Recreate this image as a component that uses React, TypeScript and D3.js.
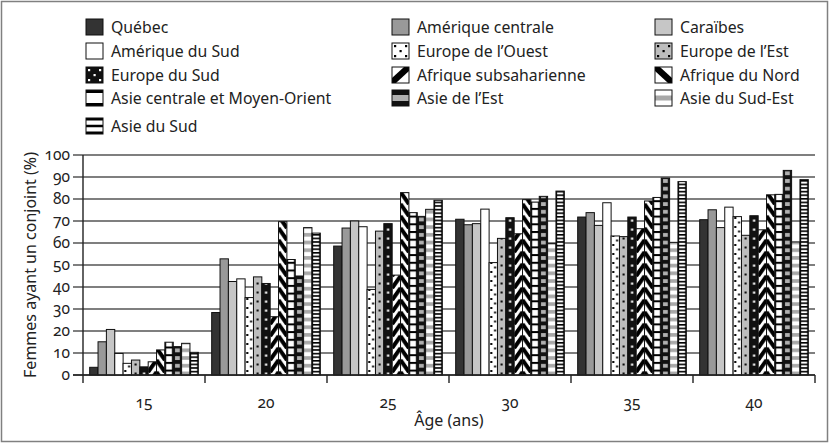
import * as d3 from 'd3';

const ages = ['15', '20', '25', '30', '35', '40'];
const yTicks = [0, 10, 20, 30, 40, 50, 60, 70, 80, 90, 100];

const seriesNames = [
  'Québec', 'Amérique centrale', 'Caraïbes', 'Amérique du Sud',
  'Europe de l’Ouest', 'Europe de l’Est', 'Europe du Sud',
  'Afrique subsaharienne', 'Afrique du Nord',
  'Asie centrale et Moyen-Orient', 'Asie de l’Est', 'Asie du Sud-Est', 'Asie du Sud',
];
const seriesKeys = [
  'quebec', 'amC', 'carib', 'amS', 'eurO', 'eurE', 'eurS',
  'afrSub', 'afrN', 'asieC', 'asieE', 'asieSE', 'asieS',
];

const quebec = [3.5, 28.4, 58.6, 70.8, 71.8, 70.6];
const ameriqueCentrale = [15.1, 52.8, 66.8, 68.3, 73.8, 75.1];
const caraibes = [20.7, 42.5, 70.0, 68.8, 68.0, 67.0];
const ameriqueSud = [9.8, 43.7, 67.4, 75.4, 78.3, 76.3];
const europeOuest = [5.3, 35.2, 38.9, 51.1, 63.2, 72.0];
const europeEst = [6.8, 44.6, 65.4, 62.1, 62.9, 63.5];
const europeSud = [3.7, 41.6, 68.8, 71.5, 71.8, 72.4];
const afriqueSub = [6.0, 26.5, 45.4, 64.2, 66.5, 66.0];
const afriqueNord = [11.4, 69.7, 82.9, 79.7, 79.1, 81.9];
const asieCentrale = [14.9, 52.5, 73.8, 78.6, 80.7, 82.1];
const asieEst = [12.9, 45.0, 72.1, 81.2, 89.5, 93.0];
const asieSudEst = [14.4, 67.0, 75.3, 59.7, 60.3, 60.5];
const asieSud = [10.3, 64.5, 79.4, 83.6, 87.9, 88.8];

const allSeries = [
  quebec, ameriqueCentrale, caraibes, ameriqueSud, europeOuest, europeEst, europeSud,
  afriqueSub, afriqueNord, asieCentrale, asieEst, asieSudEst, asieSud,
];

const W = 830;
const H = 444;
const left = 83, right = 815, top = 155, bottom = 375;
const FONT = '"Noto Sans", "Open Sans", sans-serif';

const x0 = d3.scaleBand<string>().domain(ages).range([left, right]).paddingInner(0).paddingOuter(0);
const x1 = d3.scaleBand<string>().domain(seriesKeys).range([0, x0.bandwidth()]).paddingInner(0).paddingOuter(0.8);
const y = d3.scaleLinear().domain([0, 100]).range([bottom, top]);

const bw = x1.bandwidth();

const plainFill: Record<string, string> = { quebec: '#333', amC: '#999', carib: '#c6c6c6', amS: '#fff' };

function Patterns() {
  const w = bw;
  const sh = 12;
  return (
    <defs>
      <pattern id="eurO" patternUnits="userSpaceOnUse" width={w} height={9}>
        <rect width={w} height={9} fill="#fff" />
        <rect x={1.2} y={1} width={2} height={2} fill="#000" />
        <rect x={w - 3.4} y={5.5} width={2} height={2} fill="#000" />
      </pattern>
      <pattern id="eurE" patternUnits="userSpaceOnUse" width={w} height={9}>
        <rect width={w} height={9} fill="#bdbdbd" />
        <rect x={w / 2 - 1} y={3.5} width={2} height={2} fill="#000" />
      </pattern>
      <pattern id="eurS" patternUnits="userSpaceOnUse" width={w} height={9}>
        <rect width={w} height={9} fill="#111" />
        <rect x={w / 2 - 1} y={3.5} width={2.2} height={2.2} fill="#fff" />
      </pattern>
      <pattern id="afrSub" patternUnits="userSpaceOnUse" width={w} height={sh}>
        <rect width={w} height={sh} fill="#fff" />
        {[-sh, 0, sh].map(o => (
          <line key={o} x1={0} y1={sh + o} x2={w} y2={o} stroke="#000" strokeWidth={4} />
        ))}
      </pattern>
      <pattern id="afrN" patternUnits="userSpaceOnUse" width={w} height={sh}>
        <rect width={w} height={sh} fill="#fff" />
        {[-sh, 0, sh].map(o => (
          <line key={o} x1={0} y1={o} x2={w} y2={sh + o} stroke="#000" strokeWidth={4} />
        ))}
      </pattern>
      <pattern id="asieC" patternUnits="userSpaceOnUse" width={w} height={7.7}>
        <rect width={w} height={7.7} fill="#fff" />
        <rect y={0} width={w} height={2} fill="#000" />
        <rect x={0} width={1.2} height={7.7} fill="#000" />
        <rect x={w - 1.2} width={1.2} height={7.7} fill="#000" />
      </pattern>
      <pattern id="asieE" patternUnits="userSpaceOnUse" width={w} height={7.7}>
        <rect width={w} height={7.7} fill="#111" />
        <rect x={1.8} y={2} width={w - 3.6} height={3.8} fill="#b0b0b0" />
      </pattern>
      <pattern id="asieSE" patternUnits="userSpaceOnUse" width={w} height={7.7}>
        <rect width={w} height={7.7} fill="#fff" />
        <rect y={2} width={w} height={3.6} fill="#a8a8a8" />
      </pattern>
      <pattern id="asieS" patternUnits="userSpaceOnUse" width={w} height={3.6}>
        <rect width={w} height={3.6} fill="#fff" />
        <rect y={0} width={w} height={1.6} fill="#000" />
        <rect x={0} width={1.1} height={3.6} fill="#000" />
        <rect x={w - 1.1} width={1.1} height={3.6} fill="#000" />
      </pattern>
    </defs>
  );
}

const fillFor = (k: string) => plainFill[k] ?? `url(#${k})`;

const SW = 17, SH = 16;

// legend swatch drawn as a small picture of the fill
function Swatch({ k }: { k: string }) {
  const dots = (c: string) => [[2, 2], [SW - 4, 2], [SW / 2 - 1, SH / 2 - 1], [2, SH - 4], [SW - 4, SH - 4]].map(([dx, dy], i) => (
    <rect key={i} x={dx} y={dy} width={2.2} height={2.2} fill={c} />
  ));
  let inner: any = null;
  let bg = '#fff';
  if (plainFill[k]) bg = plainFill[k];
  if (k === 'eurO') inner = dots('#000');
  if (k === 'eurE') { bg = '#bdbdbd'; inner = dots('#000'); }
  if (k === 'eurS') { bg = '#111'; inner = dots('#fff'); }
  if (k === 'afrSub') inner = <polygon points={`0,${SH} 0,${SH - 5} ${SW - 5},0 ${SW},0 ${SW},4 4,${SH}`} fill="#000" />;
  if (k === 'afrN') inner = <polygon points={`0,0 5,0 ${SW},${SH - 5} ${SW},${SH} ${SW - 4},${SH} 0,4`} fill="#000" />;
  if (k === 'asieC') inner = <><rect width={SW} height={3} fill="#000" /><rect y={SH - 3} width={SW} height={3} fill="#000" /></>;
  if (k === 'asieE') { bg = '#111'; inner = <rect x={0} y={5} width={SW} height={6} fill="#b0b0b0" />; }
  if (k === 'asieSE') inner = <rect x={0} y={5.5} width={SW} height={5} fill="#a8a8a8" />;
  if (k === 'asieS') inner = <><rect width={SW} height={2.5} fill="#000" /><rect y={SH / 2 - 1.25} width={SW} height={2.5} fill="#000" /><rect y={SH - 2.5} width={SW} height={2.5} fill="#000" /></>;
  return (
    <>
      <rect width={SW} height={SH} fill={bg} />
      {inner}
      <rect width={SW} height={SH} fill="none" stroke="#111" strokeWidth={1} />
    </>
  );
}

const legendCols = [86, 392, 655];
const legendRows = [27, 51, 75, 98, 126];

export default function App() {
  return (
    <svg width={W} height={H} style={{ position: 'absolute', left: 0, top: 0, background: '#fff' }}
      fontFamily={FONT}>
      <Patterns />
      <rect x={1.5} y={1.5} width={W - 4} height={H - 4} fill="#fff" stroke="#808080" strokeWidth={1.5} />

      {/* legend */}
      {seriesKeys.map((k, i) => {
        const col = i < 12 ? i % 3 : 0;
        const row = Math.floor(i / 3);
        const lx = legendCols[col];
        const ly = legendRows[row];
        return (
          <g key={k}>
            <g transform={`translate(${lx},${ly - 8})`}>
              <Swatch k={k} />
            </g>
            <text x={lx + 25} y={ly} dy="0.35em" fontSize={15.8} fill="#222">{seriesNames[i]}</text>
          </g>
        );
      })}

      {/* grid + y ticks */}
      {yTicks.map(t => (
        <g key={t}>
          <line x1={left - 10} x2={right} y1={y(t)} y2={y(t)} stroke="#555" strokeWidth={1.4} />
          <text x={left - 13} y={y(t)} dy="0.35em" textAnchor="end" fontSize={15.5} fill="#222"
            style={{ fontVariantNumeric: 'oldstyle-nums' }}>{t}</text>
        </g>
      ))}

      {/* bars */}
      {ages.map((a, gi) => (
        <g key={a}>
          {seriesKeys.map((k, si) => {
            const v = allSeries[si][gi];
            const bx = (x0(a) ?? 0) + (x1(k) ?? 0);
            return (
              <g key={k} transform={`translate(${bx},0)`}>
                <rect x={0} y={y(v)} width={bw} height={y(0) - y(v)} fill={fillFor(k)}
                  stroke="#111" strokeWidth={1} />
              </g>
            );
          })}
        </g>
      ))}

      {/* axes */}
      <line x1={left} x2={left} y1={top} y2={bottom} stroke="#222" strokeWidth={1.4} />
      <line x1={left - 10} x2={right} y1={bottom} y2={bottom} stroke="#222" strokeWidth={1.4} />
      {[...ages.map(a => x0(a) ?? 0), right].map((tx, i) => (
        <line key={i} x1={tx} x2={tx} y1={bottom} y2={bottom + 8} stroke="#222" strokeWidth={1.4} />
      ))}
      {ages.map(a => (
        <text key={a} x={(x0(a) ?? 0) + x0.bandwidth() / 2} y={403} dy="0.35em" textAnchor="middle"
          fontSize={15.5} fill="#222" style={{ fontVariantNumeric: 'oldstyle-nums' }}>{a}</text>
      ))}
      <text x={(left + right) / 2} y={420} dy="0.35em" textAnchor="middle" fontSize={16} fill="#222">Âge (ans)</text>
      <text transform={`translate(30,${(top + bottom) / 2}) rotate(-90)`} dy="0.35em" textAnchor="middle"
        fontSize={16} fill="#222">Femmes ayant un conjoint (%)</text>
    </svg>
  );
}
